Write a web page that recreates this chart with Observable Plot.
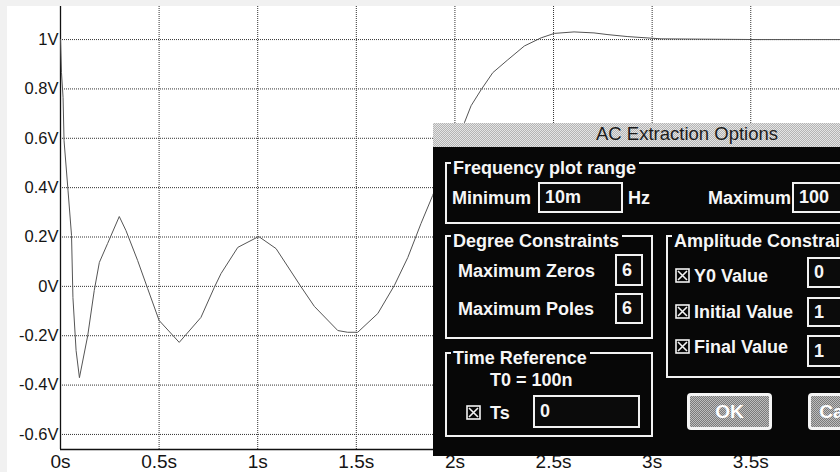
<!DOCTYPE html>
<html>
<head>
<meta charset="utf-8">
<script src="https://cdn.jsdelivr.net/npm/d3@7"></script>
<script src="https://cdn.jsdelivr.net/npm/@observablehq/plot@0.6"></script>
<style>
  html, body { margin: 0; padding: 0; overflow: hidden; background: #f1f1f1; }
  #wrap { position: relative; width: 840px; height: 472px; overflow: hidden; }
  #paper { position: absolute; left: 7px; top: 6px; right: 0; bottom: 0; background: #ffffff; }
  #chart { position: absolute; left: 0; top: 0; }
  .dlg-title { position: absolute; left: 433px; top: 123px; width: 420px; height: 24px;
    background: repeating-conic-gradient(#b4b4b4 0 25%, #e4e4e4 0 50%) 0 0 / 2px 2px; }
  .dlg-title span { position: absolute; left: 163px; top: 0; line-height: 24px; font: 18.5px "Liberation Sans", Arial, sans-serif; color: #1c1c1c; white-space: nowrap; }
  .dlg-body { position: absolute; left: 433px; top: 147px; width: 420px; height: 309px; background: #070707; }
  .t { position: absolute; color: #f6f6f6; font: bold 18px "Liberation Sans", Arial, sans-serif; line-height: 20px; white-space: nowrap; }
  .frame { position: absolute; border: 2px solid #f2f2f2; box-sizing: border-box; }
  .glabel { position: absolute; color: #f6f6f6; font: bold 18px "Liberation Sans", Arial, sans-serif; line-height: 18px; background: #070707; padding: 0 3px 0 2px; white-space: nowrap; }
  .box { position: absolute; border: 2px solid #f2f2f2; box-sizing: border-box; background: #0b0b0b; color: #f6f6f6;
    font: bold 18px "Liberation Sans", Arial, sans-serif; padding-left: 5px; white-space: nowrap; overflow: hidden; }
  .btn { position: absolute; border: 3px solid #f4f4f4; border-radius: 4px; box-sizing: border-box;
    background: repeating-conic-gradient(#7a7a7a 0 25%, #bdbdbd 0 50%) 0 0 / 2px 2px;
    color: #ffffff; font: bold 19px "Liberation Sans", Arial, sans-serif; text-align: center; overflow: hidden; white-space: nowrap; }
  .cb { position: absolute; width: 15px; height: 15px; }
</style>
</head>
<body>
<div id="wrap">
  <div id="paper"></div>
  <div id="chart"></div>
  <div id="dialog"></div>
</div>
<script>
// ---- chart data ----
const times = [0, 0.005, 0.013, 0.018, 0.038, 0.056, 0.063, 0.079, 0.096, 0.138, 0.171, 0.197, 0.239, 0.298, 0.332,
  0.391, 0.442, 0.5, 0.602, 0.712, 0.78, 0.814, 0.899, 1.005, 1.093, 1.22, 1.287, 1.406, 1.456, 1.507, 1.609,
  1.693, 1.761, 1.828, 1.887, 1.965, 2.048, 2.082, 2.133, 2.192, 2.268, 2.352, 2.437, 2.504, 2.604, 2.705,
  2.776, 2.877, 3.045, 3.537, 3.955];
const volts = [1.0, 0.866, 0.765, 0.59, 0.39, 0.206, -0.045, -0.26, -0.37, -0.2, -0.017, 0.097, 0.174, 0.283, 0.226,
  0.105, -0.009, -0.138, -0.227, -0.126, -0.004, 0.052, 0.158, 0.202, 0.153, -0.002, -0.081, -0.179, -0.186, -0.186, -0.11,
  0.004, 0.117, 0.255, 0.368, 0.53, 0.663, 0.732, 0.797, 0.866, 0.918, 0.974, 1.007, 1.025, 1.031, 1.027,
  1.02, 1.012, 1.003, 1.0, 1.0];
const xTicks = [0, 0.5, 1, 1.5, 2, 2.5, 3, 3.5];
const yTicks = [-0.6, -0.4, -0.2, 0, 0.2, 0.4, 0.6, 0.8, 1];
const xDomain = [0, 3.955];
const yDomain = [-0.661, 1.134];

const points = times.map((t, i) => ({t, v: volts[i]}));

const chart = Plot.plot({
  width: 840,
  height: 472,
  marginLeft: 60,
  marginRight: 0,
  marginTop: 6,
  marginBottom: 23,
  x: {domain: xDomain},
  y: {domain: yDomain},
  style: {background: "transparent", fontFamily: "'Liberation Sans', Arial, sans-serif", color: "#141414"},
  marks: [
    Plot.ruleX(xTicks.filter(d => d > 0), {stroke: "#333", strokeDasharray: "1,1", strokeWidth: 1}),
    Plot.ruleY(yTicks, {stroke: "#333", strokeDasharray: "1,1", strokeWidth: 1}),
    Plot.ruleX([0], {stroke: "#111", strokeWidth: 1.3}),
    Plot.ruleY([yDomain[0]], {stroke: "#111", strokeWidth: 1.3}),
    Plot.line(points, {x: "t", y: "v", stroke: "#555", strokeWidth: 1}),
    Plot.axisY(yTicks, {tickSize: 0, tickPadding: 2, tickFormat: d => `${d}V`, fontSize: 16.5, label: null}),
    Plot.axisX(xTicks, {tickSize: 0, tickPadding: 5, tickFormat: d => `${d}s`, fontSize: 19, label: null})
  ]
});
document.getElementById("chart").append(chart);

// ---- dialog overlay (as in the reference screenshot) ----
const cbSvg = `<svg width="15" height="15" viewBox="0 0 15 15"><rect x="1" y="1" width="13" height="13" fill="none" stroke="#f4f4f4" stroke-width="1.6"/><path d="M3 3L12 12M12 3L3 12" stroke="#f4f4f4" stroke-width="1.6"/></svg>`;
const parts = [];
parts.push(`<div class="dlg-title"><span>AC Extraction Options</span></div>`);
parts.push(`<div class="dlg-body"></div>`);
const frames = [
  {l: 445, t: 162, w: 420, h: 62, label: "Frequency plot range"},
  {l: 445, t: 235, w: 208, h: 104, label: "Degree Constraints"},
  {l: 666, t: 235, w: 220, h: 143, label: "Amplitude Constraints"},
  {l: 445, t: 352, w: 208, h: 85, label: "Time Reference"}
];
for (const f of frames) {
  parts.push(`<div class="frame" style="left:${f.l}px;top:${f.t}px;width:${f.w}px;height:${f.h}px"></div>`);
  parts.push(`<div class="glabel" style="left:${f.l + 6}px;top:${f.t - 3}px">${f.label}</div>`);
}
const texts = [
  {x: 452, y: 198, s: "Minimum"},
  {x: 628, y: 198, s: "Hz"},
  {x: 708, y: 198, s: "Maximum"},
  {x: 458, y: 271, s: "Maximum Zeros"},
  {x: 458, y: 309, s: "Maximum Poles"},
  {x: 694, y: 276, s: "Y0 Value"},
  {x: 694, y: 312, s: "Initial Value"},
  {x: 694, y: 347, s: "Final Value"},
  {x: 490, y: 380, s: "T0 = 100n"},
  {x: 490, y: 413, s: "Ts"}
];
for (const t of texts) parts.push(`<div class="t" style="left:${t.x}px;top:${t.y - 10}px">${t.s}</div>`);
const boxes = [
  {l: 538, t: 182, w: 85, h: 31, s: "10m"},
  {l: 792, t: 182, w: 80, h: 31, s: "100"},
  {l: 615, t: 254, w: 28, h: 32, s: "6"},
  {l: 615, t: 293, w: 28, h: 31, s: "6"},
  {l: 807, t: 257, w: 60, h: 31, s: "0"},
  {l: 807, t: 297, w: 60, h: 30, s: "1"},
  {l: 807, t: 335, w: 60, h: 32, s: "1"},
  {l: 533, t: 395, w: 107, h: 33, s: "0"}
];
for (const b of boxes) parts.push(`<div class="box" style="left:${b.l}px;top:${b.t}px;width:${b.w}px;height:${b.h}px;line-height:${b.h - 4}px">${b.s}</div>`);
const checks = [{x: 675, y: 268}, {x: 675, y: 304}, {x: 675, y: 339}, {x: 466, y: 405}];
for (const c of checks) parts.push(`<div class="cb" style="left:${c.x}px;top:${c.y}px">${cbSvg}</div>`);
parts.push(`<div class="btn" style="left:687px;top:393px;width:85px;height:37px;line-height:31px">OK</div>`);
parts.push(`<div class="btn" style="left:808px;top:393px;width:85px;height:37px;line-height:31px">Cancel</div>`);
document.getElementById("dialog").innerHTML = parts.join("");
</script>
</body>
</html>
